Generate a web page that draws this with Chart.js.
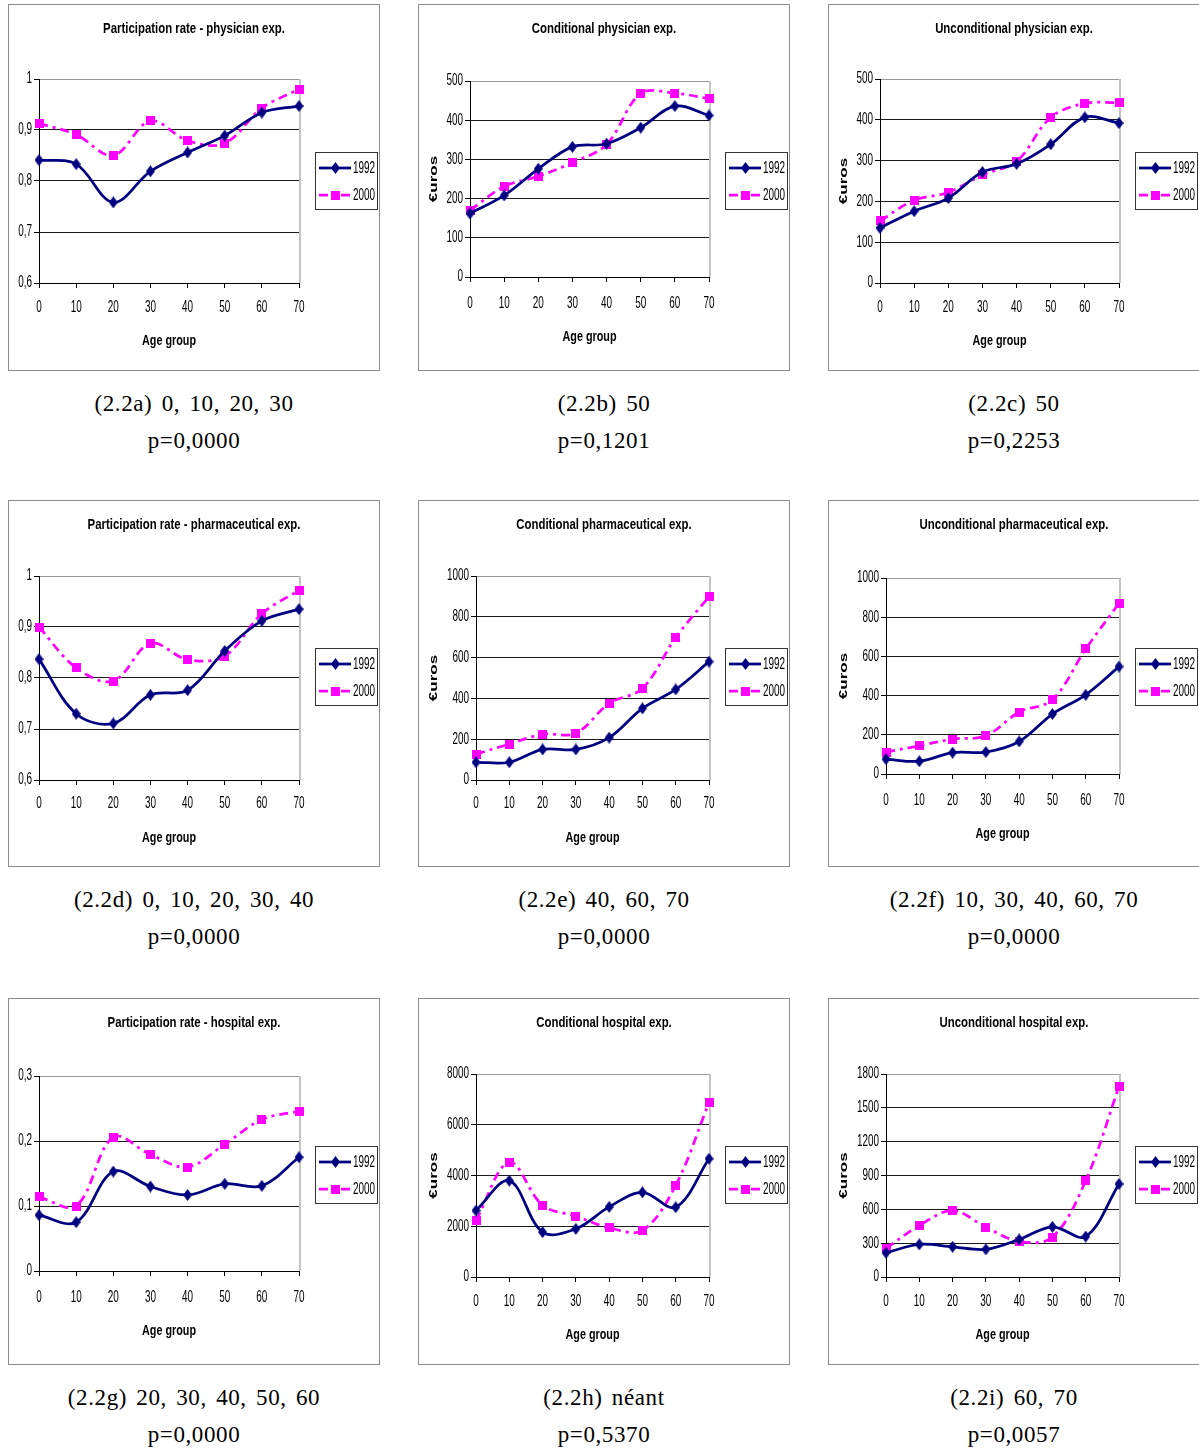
<!DOCTYPE html>
<html><head><meta charset="utf-8">
<script src="https://cdn.jsdelivr.net/npm/chart.js@4.4.1/dist/chart.umd.min.js"></script>
<style>
html,body{margin:0;padding:0;background:#fff}
body{width:1199px;height:1449px;overflow:hidden;position:relative}
.panel{position:absolute;width:372px;height:367px;box-sizing:border-box;border:1px solid #8c8c8c;background:#fff}
.panel canvas{position:absolute;left:0;top:0}
.ptitle{position:absolute;left:0;top:14px;width:370px;text-align:center;font:bold 15px 'Liberation Sans',Arial,sans-serif;line-height:17px;color:#000;transform:scaleX(0.76);transform-origin:185px 50%}
.cap{position:absolute;width:420px;text-align:center;font:23px 'Liberation Serif',serif;letter-spacing:0.6px;word-spacing:3px;line-height:26px;color:#000}
</style></head>
<body>
<script>
// ---- data ----
const ageGroups = [0, 10, 20, 30, 40, 50, 60, 70];
const seriesNames = ['1992', '2000'];

const partPhys1992 = [0.841, 0.833, 0.758, 0.819, 0.856, 0.889, 0.934, 0.947];
const partPhys2000 = [0.913, 0.891, 0.850, 0.918, 0.879, 0.874, 0.943, 0.980];
const condPhys1992 = [162, 208, 276, 332, 340, 381, 436, 412];
const condPhys2000 = [170, 231, 257, 292, 338, 468, 469, 455];
const uncondPhys1992 = [135, 176, 208, 272, 292, 340, 406, 392];
const uncondPhys2000 = [152, 203, 222, 265, 298, 406, 440, 442];

const partPharm1992 = [0.837, 0.730, 0.711, 0.767, 0.776, 0.853, 0.912, 0.935];
const partPharm2000 = [0.900, 0.820, 0.794, 0.868, 0.836, 0.843, 0.926, 0.972];
const condPharm1992 = [87, 87, 150, 150, 208, 351, 444, 580];
const condPharm2000 = [127, 176, 224, 229, 376, 449, 698, 899];
const uncondPharm1992 = [76, 65, 109, 112, 166, 306, 404, 548];
const uncondPharm2000 = [112, 144, 178, 195, 316, 379, 638, 871];

const partHosp1992 = [0.086, 0.075, 0.153, 0.130, 0.117, 0.134, 0.131, 0.175];
const partHosp2000 = [0.114, 0.100, 0.206, 0.179, 0.160, 0.195, 0.233, 0.246];
const condHosp1992 = [2619, 3797, 1767, 1898, 2763, 3339, 2750, 4661];
const condHosp2000 = [2226, 4530, 2828, 2396, 1938, 1833, 3614, 6874];
const uncondHosp1992 = [215, 289, 268, 245, 333, 445, 359, 825];
const uncondHosp2000 = [253, 456, 589, 442, 315, 354, 854, 1688];

// y-axis ticks: [min, max, step]
const yTicksPart = [0.6, 1, 0.1];
const yTicksPhys = [0, 500, 100];
const yTicksPharm = [0, 1000, 200];
const yTicksHospPart = [0, 0.3, 0.1];
const yTicksHospCond = [0, 8000, 2000];
const yTicksHospUncond = [0, 1800, 300];

const titles = ['Participation rate - physician exp.', 'Conditional physician exp.', 'Unconditional physician exp.',
  'Participation rate - pharmaceutical exp.', 'Conditional pharmaceutical exp.', 'Unconditional pharmaceutical exp.',
  'Participation rate - hospital exp.', 'Conditional hospital exp.', 'Unconditional hospital exp.'];
const captions1 = ['(2.2a) 0, 10, 20, 30', '(2.2b) 50', '(2.2c) 50',
  '(2.2d) 0, 10, 20, 30, 40', '(2.2e) 40, 60, 70', '(2.2f) 10, 30, 40, 60, 70',
  '(2.2g) 20, 30, 40, 50, 60', '(2.2h) néant', '(2.2i) 60, 70'];
const captions2 = ['p=0,0000', 'p=0,1201', 'p=0,2253', 'p=0,0000', 'p=0,0000', 'p=0,0000', 'p=0,0000', 'p=0,5370', 'p=0,0057'];
const xAxisTitle = 'Age group';
const yAxisTitle = '€uros';

// ---- panel wiring ----
const panelData = [
  [partPhys1992, partPhys2000, yTicksPart, false],
  [condPhys1992, condPhys2000, yTicksPhys, true],
  [uncondPhys1992, uncondPhys2000, yTicksPhys, true],
  [partPharm1992, partPharm2000, yTicksPart, false],
  [condPharm1992, condPharm2000, yTicksPharm, true],
  [uncondPharm1992, uncondPharm2000, yTicksPharm, true],
  [partHosp1992, partHosp2000, yTicksHospPart, false],
  [condHosp1992, condHosp2000, yTicksHospCond, true],
  [uncondHosp1992, uncondHosp2000, yTicksHospUncond, true]
];
// layout (canvas coords): left, right, top, bottom, x label center, age title y
const panelLayout = [
  [30, 290, 74, 278, 303, 336], [51, 290, 76, 272, 299, 332], [51, 290, 74, 278, 303, 336],
  [30, 290, 75, 279, 303, 337], [57, 290, 75, 279, 303, 337], [57, 290, 77, 273, 300, 333],
  [30, 290, 77, 272, 299, 332], [57, 290, 75, 278, 303, 336], [57, 290, 75, 278, 303, 336]
];
const colX = [8, 418, 828];
const rowY = [4, 500, 998];
const CW = 370, CH = 365;

const SANS = "'Liberation Sans',Arial,sans-serif";
Chart.defaults.font.family = SANS;
Chart.defaults.color = '#000';

// condensed text rendering (the reference uses a very narrow face)
function condense(ctx) {
  const orig = ctx.fillText.bind(ctx);
  ctx.fillText = function (t, x, y, mw) {
    const m = this.getTransform();
    const bold = /bold|700/.test(this.font);
    this.save();
    this.translate(x, y);
    if (Math.abs(m.b) > 1e-6) { this.scale(1, 0.62); }
    else { this.scale(bold ? 0.72 : 0.62, 1); }
    orig(t, 0, 0);
    this.restore();
  };
}

function diamondImg(color) {
  const c = document.createElement('canvas'); c.width = 9; c.height = 12;
  const g = c.getContext('2d'); g.fillStyle = color; g.beginPath();
  g.moveTo(4.5, 0); g.lineTo(9, 6); g.lineTo(4.5, 12); g.lineTo(0, 6); g.closePath(); g.fill();
  return c;
}
function squareImg(color) {
  const c = document.createElement('canvas'); c.width = 9; c.height = 9;
  const g = c.getContext('2d'); g.fillStyle = color; g.fillRect(0, 0, 9, 9);
  return c;
}
const NAVY = '#000080', MAG = '#ff00ff';
const diamond = diamondImg(NAVY), square = squareImg(MAG);

function fmt(v) {
  const r = Math.round(v * 1000) / 1000;
  return String(r).replace('.', ',');
}

const frame = {
  id: 'frame',
  beforeDatasetsDraw(chart) {
    const a = chart.chartArea, ctx = chart.ctx;
    ctx.save();
    ctx.strokeStyle = '#c4c4c4'; ctx.lineWidth = 2;
    ctx.beginPath(); ctx.moveTo(a.right + 1, a.top); ctx.lineTo(a.right + 1, a.bottom); ctx.stroke();
    ctx.restore();
  }
};
const boxLegend = {
  id: 'boxLegend',
  afterDraw(chart) {
    const ctx = chart.ctx;
    const x = 306, y = 147, w = 62, h = 57;
    ctx.save();
    ctx.fillStyle = '#fff'; ctx.fillRect(x, y, w, h);
    ctx.strokeStyle = '#333'; ctx.lineWidth = 1; ctx.strokeRect(x + 0.5, y + 0.5, w, h);
    const rows = [16, 43];
    chart.data.datasets.forEach((ds, i) => {
      const cy = y + rows[i];
      ctx.strokeStyle = ds.borderColor; ctx.lineWidth = ds.borderWidth;
      ctx.setLineDash(ds.borderDash || []);
      ctx.beginPath(); ctx.moveTo(x + 4, cy); ctx.lineTo(x + 36, cy); ctx.stroke();
      ctx.setLineDash([]);
      const img = ds.pointStyle;
      ctx.drawImage(img, Math.round(x + 20 - img.width / 2), Math.round(cy - img.height / 2));
      ctx.fillStyle = '#000'; ctx.font = '16px ' + SANS; ctx.textBaseline = 'middle'; ctx.textAlign = 'left';
      ctx.fillText(ds.label, x + 38, cy + 1);
    });
    ctx.restore();
  }
};

panelData.forEach((pd, k) => {
  const col = k % 3, row = Math.floor(k / 3);
  const [s1, s2, yt, euros] = pd;
  const [L, R, T, B, xlab, ageY] = panelLayout[k];
  const panel = document.createElement('div');
  panel.className = 'panel';
  panel.style.left = colX[col] + 'px'; panel.style.top = rowY[row] + 'px';
  const cv = document.createElement('canvas');
  cv.width = CW; cv.height = CH; cv.style.width = CW + 'px'; cv.style.height = CH + 'px';
  panel.appendChild(cv);
  const t = document.createElement('div'); t.className = 'ptitle'; t.textContent = titles[k];
  panel.appendChild(t);
  document.body.appendChild(panel);
  condense(cv.getContext('2d'));

  const c1 = document.createElement('div'); c1.className = 'cap';
  c1.style.left = (colX[col] + 186 - 210) + 'px'; c1.style.top = (rowY[row] + 387) + 'px';
  c1.textContent = captions1[k]; document.body.appendChild(c1);
  const c2 = document.createElement('div'); c2.className = 'cap';
  c2.style.left = (colX[col] + 186 - 210) + 'px'; c2.style.top = (rowY[row] + 424) + 'px';
  c2.textContent = captions2[k]; document.body.appendChild(c2);

  const tickFont = 16, ageLH = 15 * 1.2;
  const xpad = xlab - B - 5 - tickFont * 1.2 / 2;
  new Chart(cv, {
    type: 'line',
    data: {
      labels: ageGroups.map(String),
      datasets: [
        { label: seriesNames[0], data: s1, borderColor: NAVY, backgroundColor: NAVY, borderWidth: 2.75,
          pointStyle: diamond, pointRadius: 5, tension: 0.35, clip: false, fill: false },
        { label: seriesNames[1], data: s2, borderColor: MAG, backgroundColor: MAG, borderWidth: 2.75,
          borderDash: [9, 5, 3, 5], pointStyle: square, pointRadius: 5, tension: 0.35, clip: false, fill: false }
      ]
    },
    options: {
      responsive: false, animation: false, events: [],
      layout: { padding: { top: T, right: CW - R, bottom: 0, left: 0 } },
      plugins: { legend: { display: false }, tooltip: { enabled: false }, title: { display: false } },
      scales: {
        x: {
          type: 'category', offset: false,
          grid: { drawOnChartArea: false, drawTicks: true, tickLength: 5, tickColor: '#000', color: '#000' },
          border: { display: true, color: '#000', width: 1 },
          ticks: { padding: xpad, font: { size: tickFont }, color: '#000', maxRotation: 0, autoSkip: false },
          title: { display: true, text: xAxisTitle, font: { size: 15, weight: 'bold' }, color: '#000',
                   padding: { top: 0, bottom: CH - ageY - ageLH / 2 } },
          afterFit(s) { s.height = CH - B; }
        },
        y: {
          min: yt[0], max: yt[1],
          grid: { color: (c) => (c.tick && Math.abs(c.tick.value - yt[1]) < 1e-9) ? '#9a9a9a' : '#1a1a1a',
                  lineWidth: 1, tickLength: 5, tickColor: '#000' },
          border: { display: true, color: '#000', width: 1 },
          ticks: { stepSize: yt[2], padding: 2, font: { size: tickFont }, color: '#000', callback: (v) => fmt(v), autoSkip: false },
          title: { display: euros, text: yAxisTitle, font: { size: 17, weight: 'bold' },
                   color: '#000', padding: { top: 5, bottom: 0 } },
          afterFit(s) { s.width = L; }
        }
      }
    },
    plugins: [frame, boxLegend]
  });
});
</script>
</body></html>
